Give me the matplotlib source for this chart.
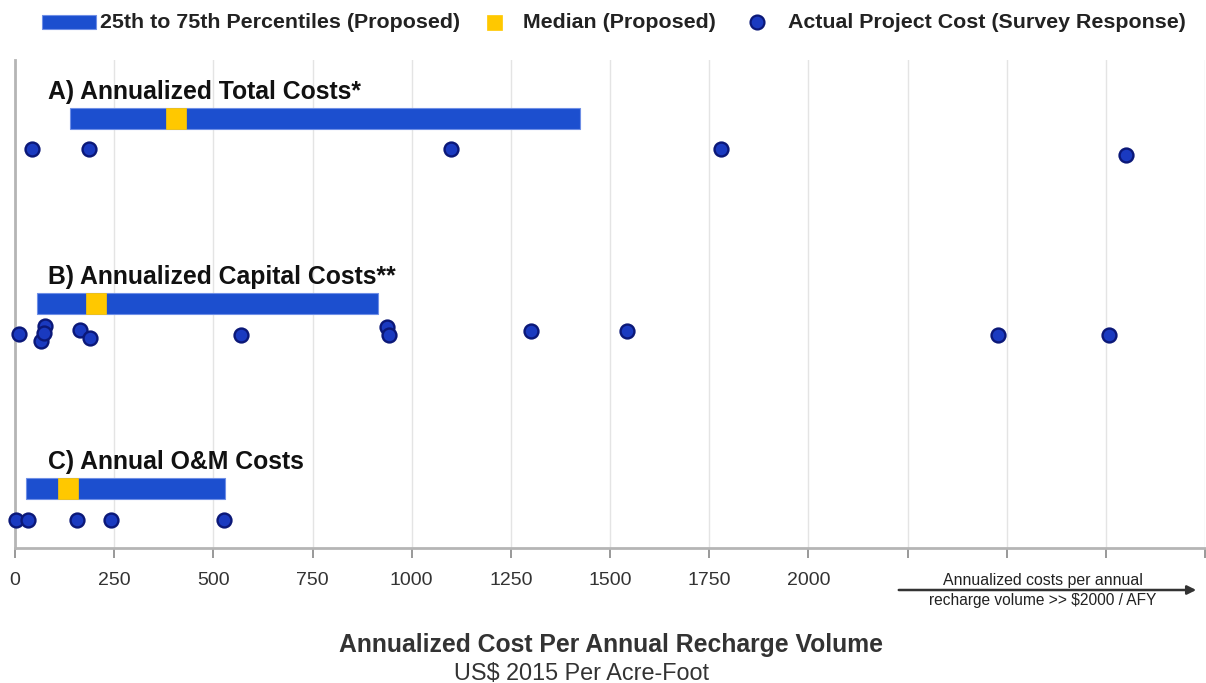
import matplotlib
matplotlib.use("Agg")
import matplotlib.pyplot as plt
from matplotlib.patches import Rectangle
import numpy as np

plt.rcParams['font.family'] = ['Liberation Sans', 'DejaVu Sans']

# ---- data (US$ 2015 per acre-foot) ----
groups = ["A) Annualized Total Costs*", "B) Annualized Capital Costs**", "C) Annual O&M Costs"]
p25 = [138, 56, 28]
p75 = [1425, 914, 529]
median = [406, 205, 133]

# actual project costs (survey) and small vertical jitter used in the original
a_cost = [43, 186, 1098, 1780, 2800]
a_jit = [0.167, 0.167, 0.167, 0.167, 0.2]
b_cost = [10, 65, 75, 72, 164, 188, 569, 937, 942, 1302, 1543, 2477, 2759]
b_jit = [0.164, 0.204, 0.124, 0.162, 0.146, 0.189, 0.168, 0.128, 0.173, 0.15, 0.15, 0.168, 0.168]
c_cost = [3, 32, 157, 242, 527]
c_jit = [0.168, 0.168, 0.168, 0.168, 0.168]

ticks = np.arange(0, 3001, 250)
tick_labels = [str(t) if t <= 2000 else "" for t in ticks]

BLUE = '#1c4fcf'
YELLOW = '#ffc800'
DOT = '#1a3ac0'
DOT_EDGE = '#0b1878'

W, H = 1206, 683
fig = plt.figure(figsize=(W / 100, H / 100), dpi=100)
ax = fig.add_axes([15 / W, 1 - 548 / H, 1190 / W, (548 - 60) / H])

rows = np.arange(len(groups))
bar_h = 0.115

# percentile bars + medians
ax.barh(rows, np.array(p75) - np.array(p25), left=p25, height=bar_h,
        color=BLUE, edgecolor='#6f8fe6', linewidth=0.8, zorder=3)
ax.barh(rows, 50, left=np.array(median) - 25, height=bar_h,
        color=YELLOW, edgecolor=YELLOW, linewidth=0.5, zorder=4)

# survey points
for r, cost, jit in [(0, a_cost, a_jit), (1, b_cost, b_jit), (2, c_cost, c_jit)]:
    ax.plot(cost, r + np.array(jit), 'o', ms=10, mfc=DOT, mec=DOT_EDGE, mew=1.7,
            zorder=5, clip_on=False)

# group titles
for r, g in zip(rows, groups):
    ax.text(83, r - 0.145, g, fontsize=17.8, fontweight='bold', color='#111111',
            va='center', ha='left', zorder=6)

ax.set_xlim(0, 2996)
ax.set_ylim(2.322, -0.316)
ax.set_xticks(ticks)
ax.set_xticklabels(tick_labels, fontsize=14, color='#333333')
ax.tick_params(axis='x', length=7, width=1.2, color='#888888', pad=10.5)
ax.set_yticks([])
ax.grid(axis='x', color='#e4e4e4', linewidth=1.0, zorder=0)
ax.set_axisbelow(True)
for s in ['top', 'right']:
    ax.spines[s].set_visible(False)
ax.spines['left'].set_color('#b5b5b5')
ax.spines['left'].set_linewidth(2)
ax.spines['bottom'].set_color('#b5b5b5')
ax.spines['bottom'].set_linewidth(2)

# arrow for costs beyond $2000
ax.annotate('', xy=(1199 / W, 1 - 590 / H), xytext=(896 / W, 1 - 590 / H),
            xycoords='figure fraction', textcoords='figure fraction',
            arrowprops=dict(arrowstyle='-|>', color='#333333', lw=1.8, mutation_scale=13),
            annotation_clip=False)
fig.text(1043 / W, 1 - 580 / H, "Annualized costs per annual", fontsize=11.4,
         color='#222222', ha='center', va='center')
fig.text(1043 / W, 1 - 601 / H, "recharge volume >> $2000 / AFY", fontsize=11.2,
         color='#222222', ha='center', va='center')

# axis title
fig.text(611 / W, 1 - 645 / H, "Annualized Cost Per Annual Recharge Volume", fontsize=17.8,
         fontweight='bold', color='#333333', ha='center', va='center')
fig.text(581 / W, 1 - 673 / H, "US$ 2015 Per Acre-Foot", fontsize=16.8,
         color='#333333', ha='center', va='center')

# legend (top)
ly = 1 - 22 / H
fig.add_artist(Rectangle((42 / W, 1 - 29 / H), 54 / W, 14 / H, transform=fig.transFigure,
                         facecolor=BLUE, edgecolor='#6f8fe6', lw=0.8))
fig.text(100 / W, ly, "25th to 75th Percentiles (Proposed)", fontsize=15.4,
         fontweight='bold', color='#222222', va='center')
fig.add_artist(Rectangle((487 / W, 1 - 30 / H), 15 / W, 15 / H, transform=fig.transFigure,
                         facecolor=YELLOW, edgecolor=YELLOW, lw=0.5))
fig.text(523 / W, ly, "Median (Proposed)", fontsize=15.4,
         fontweight='bold', color='#222222', va='center')
fig.lines.append(plt.Line2D([757 / W], [ly], transform=fig.transFigure, marker='o', ms=10,
                            mfc=DOT, mec=DOT_EDGE, mew=1.6, ls=''))
fig.text(788 / W, ly, "Actual Project Cost (Survey Response)", fontsize=15.4,
         fontweight='bold', color='#222222', va='center')

fig.savefig("out.png", dpi=100)
